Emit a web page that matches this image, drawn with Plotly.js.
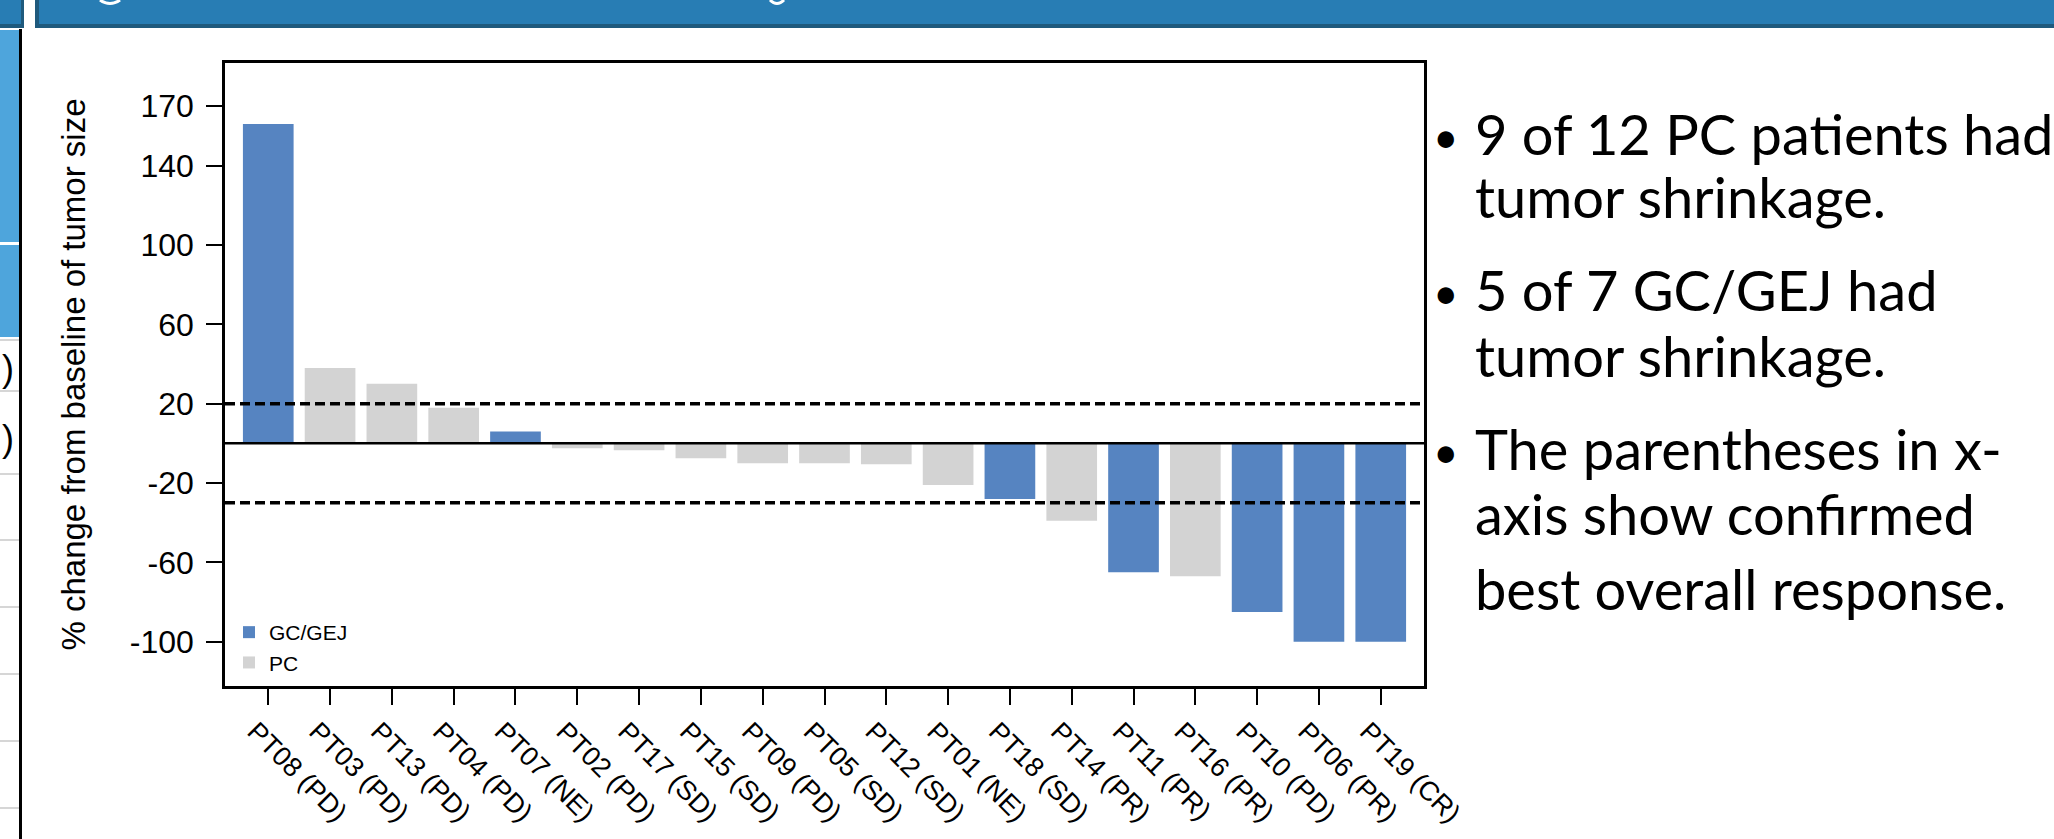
<!DOCTYPE html>
<html>
<head>
<meta charset="utf-8">
<script src="https://cdn.plot.ly/plotly-3.0.1.min.js"></script>
<style>
html,body{margin:0;padding:0;background:#ffffff;}
#chart{width:2054px;height:839px;}
</style>
</head>
<body>
<div id="chart"></div>
<script>
// ---- data ----
const patients  = ["PT08","PT03","PT13","PT04","PT07","PT02","PT17","PT15","PT09","PT05","PT12","PT01","PT18","PT14","PT11","PT16","PT10","PT06","PT19"];
const responses = ["PD","PD","PD","PD","NE","PD","SD","SD","PD","SD","SD","NE","SD","PR","PR","PR","PD","PR","CR"];
const cohorts   = ["GC/GEJ","PC","PC","PC","GC/GEJ","PC","PC","PC","PC","PC","PC","PC","GC/GEJ","PC","GC/GEJ","PC","GC/GEJ","GC/GEJ","GC/GEJ"];
const changes   = [161, 38, 30, 18, 6, -2.5, -3.5, -7.5, -10, -10, -10.5, -21, -28, -39, -65, -67, -85, -100, -100];
const cohortNames  = ["GC/GEJ","PC"];
const cohortColors = ["#5684c1","#d3d3d3"];
const yTickValues  = [170,140,100,60,20,-20,-60,-100];
const yTickText    = ["170","140","100","60","20","-20","-60","-100"];
const thresholds   = [20,-30];
const yTitle = "% change from baseline of tumor size";
const bulletLines = [
  ["9 of 12 PC patients had","tumor shrinkage."],
  ["5 of 7 GC/GEJ had","tumor shrinkage."],
  ["The parentheses in x-","axis show confirmed","best overall response."]
];
const leftMarks = [")",")"];

// ---- page geometry ----
const W = 2054, H = 839, L = 225, R = 1424, T = 63, B = 686;
const px = x => (x - L) / (R - L);
const py = y => (B - y) / (B - T);

const labels = patients.map((p,i) => p + " (" + responses[i] + ")");

const traces = cohortNames.map((c,ci) => {
  const xs = [], ys = [];
  labels.forEach((lab,i) => { if (cohorts[i] === c) { xs.push(lab); ys.push(changes[i]); } });
  return {
    type: "bar", name: c, x: xs, y: ys,
    marker: {color: cohortColors[ci], line: {width: 0}},
    hoverinfo: "x+y"
  };
});

const shapes = [];
// threshold lines
thresholds.forEach(v => shapes.push({type:"line", xref:"paper", yref:"y", x0:0, x1:1, y0:v, y1:v,
  line:{color:"#000000", width:3.5, dash:"10px,5px"}}));
// zero line
shapes.push({type:"line", xref:"paper", yref:"y", x0:0, x1:1, y0:0, y1:0, line:{color:"#000000", width:2.5}});

// slide decoration (header band and left panel fragment)
function rect(x0,y0,x1,y1,color){
  shapes.push({type:"rect", xref:"paper", yref:"paper", x0:px(x0), x1:px(x1), y0:py(y1), y1:py(y0),
    fillcolor:color, line:{width:0}, layer:"below"});
}
rect(0,0,24,28,"#287db4");
rect(21,0,24,28,"#1f5a7d");
rect(0,24,24,28,"#1f5a7d");
rect(35,0,W,28,"#287db4");
rect(35,0,39,28,"#1f5a7d");
rect(35,24,W,28,"#1f5a7d");
rect(0,30,19,337,"#4ea5dc");
rect(0,242,19,245,"#ffffff");
[340,391,474,540,607,674,741,808].forEach(y => rect(0,y-1,19,y+1,"#d6d6d6"));
rect(19,29,22,H,"#000000");
// cut-off white letter descenders in the header band
[[100,120],[770,784]].forEach(([a,b]) => shapes.push({type:"path", xref:"paper", yref:"paper",
  path:"M "+px(a)+","+py(0)+" Q "+px((a+b)/2)+","+py(7)+" "+px(b)+","+py(0),
  line:{color:"#ffffff", width:3}, fillcolor:"rgba(0,0,0,0)"}));

const annotations = [];
// left fragment parentheses
[368,438].forEach((y,i) => annotations.push({xref:"paper", yref:"paper", x:px(8), y:py(y),
  xanchor:"center", yanchor:"middle", text:leftMarks[i], showarrow:false,
  font:{family:"Liberation Sans, Arial, sans-serif", size:36, color:"#000"}}));

// right bullet text
const lineY = [[133,197],[289,355],[448,513,588]];
const bulletFont = {family:"Lato, Open Sans, sans-serif", size:56, color:"#000000"};
bulletLines.forEach((lines,bi) => {
  annotations.push({xref:"paper", yref:"paper", x:px(1446), y:py(lineY[bi][0]+3), xanchor:"center", yanchor:"middle",
    text:"•", showarrow:false, font:{family:bulletFont.family, size:44, color:"#000"}});
  lines.forEach((t,li) => annotations.push({xref:"paper", yref:"paper", x:px(1473), y:py(lineY[bi][li]),
    xanchor:"left", yanchor:"middle", text:t, showarrow:false, font:bulletFont}));
});

const layout = {
  width: W, height: H,
  margin: {l:L, r:W-R, t:T, b:H-B, pad:0},
  paper_bgcolor: "#ffffff", plot_bgcolor: "#ffffff",
  barmode: "overlay", bargap: 0.18,
  showlegend: true,
  legend: {x:px(229), y:py(683), xanchor:"left", yanchor:"bottom", bgcolor:"rgba(0,0,0,0)",
    font:{family:"Liberation Sans, Arial, sans-serif", size:21, color:"#000"}, itemwidth:30, tracegroupgap:0},
  xaxis: {
    type:"category", categoryorder:"array", categoryarray: labels,
    range:[-0.7, 18.7], showgrid:false, zeroline:false,
    showline:true, mirror:true, linecolor:"#000", linewidth:2.5,
    ticks:"outside", ticklen:16, tickwidth:2, tickcolor:"#000",
    tickangle:45, tickfont:{family:"Liberation Sans, Arial, sans-serif", size:27, color:"#000"},
    ticklabelshift:-13, ticklabelstandoff:0,
    automargin:false, fixedrange:true
  },
  yaxis: {
    range:[-122.3, 191.7], tickmode:"array", tickvals:yTickValues, ticktext:yTickText,
    showgrid:false, zeroline:false,
    showline:true, mirror:true, linecolor:"#000", linewidth:2.5,
    ticks:"outside", ticklen:16, tickwidth:2, tickcolor:"#000",
    tickfont:{family:"Liberation Sans, Arial, sans-serif", size:32, color:"#000"}, ticklabelstandoff: 6,
    title:{text:yTitle, font:{family:"Liberation Sans, Arial, sans-serif", size:33, color:"#000"}, standoff:35},
    automargin:false, fixedrange:true
  },
  shapes: shapes,
  annotations: annotations
};

Plotly.newPlot("chart", traces, layout, {displayModeBar:false, responsive:false});
</script>
</body>
</html>
